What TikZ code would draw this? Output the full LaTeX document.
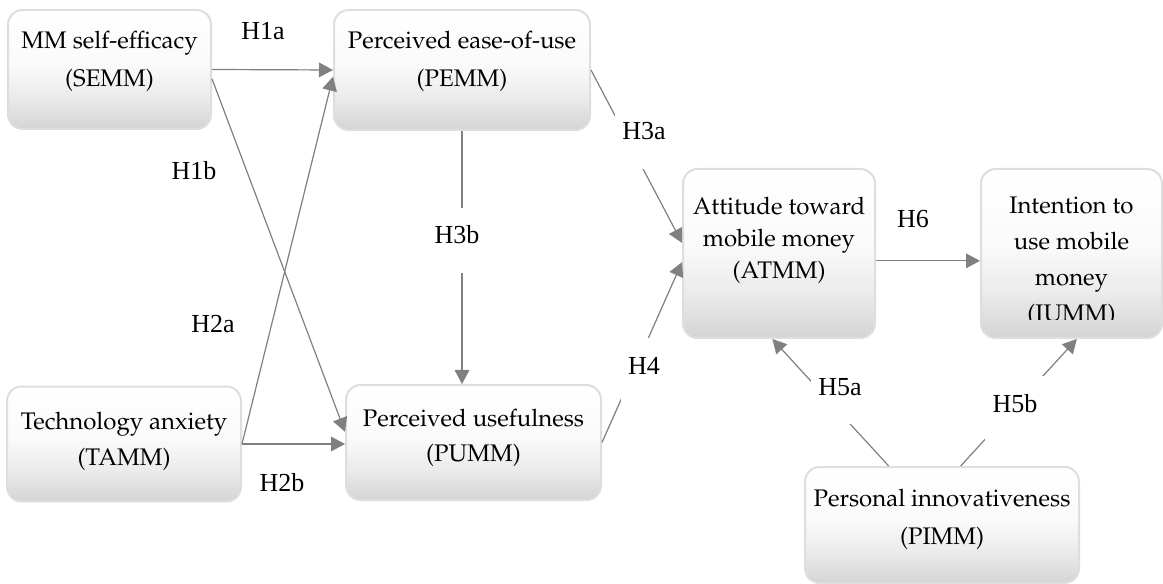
\documentclass[tikz,border=0pt]{standalone}
\usepackage[T1]{fontenc}
\usepackage{fontspec}
\usepackage{tikz}
\usetikzlibrary{arrows.meta, positioning, calc}
\newfontfamily\labfont{Liberation Serif}
\newcommand\boxfont[1]{\fontencoding{T1}\fontfamily{ppl}\fontsize{18}{#1}\selectfont}
\pgfdeclareverticalshading{mboxshade}{100bp}{color(0bp)=(black!17); color(25bp)=(black!17); color(38bp)=(black!8); color(52bp)=(black!2); color(75bp)=(white); color(100bp)=(white)}
\tikzset{
	mbox/.style={draw=black!13, line width=1.5pt, rounded corners=11pt, shading=mboxshade, inner sep=0pt},
	mtext/.style={font=\boxfont{#1}, align=center, inner sep=0pt},
	mtext/.default=26pt,
	hyp/.style={font=\labfont\fontsize{19.5}{21}\selectfont, inner sep=1pt},
	% label sitting on a line, white patch cuts the line
	hypgap/.style={hyp, fill=white, inner xsep=5.5pt, inner ysep=0pt, text height=27pt, text depth=22pt, anchor=base},
	hyparrow/.style={draw=gray, line width=0.9pt, -{Triangle[length=10.5pt, width=11pt]}, fill=gray},
}

\begin{document}
\begin{tikzpicture}[x=0.75pt, y=-0.75pt]
	\useasboundingbox (0,0) rectangle (1163,584);
	% constructs
	\node[mbox, minimum width=152.25pt, minimum height=89.25pt] (sem) at (109.5,69.5) {};
	\node[mbox, minimum width=192pt, minimum height=90pt] (pem) at (462,70) {};
	\node[mbox, minimum width=175.5pt, minimum height=86.25pt] (tam) at (124,444) {};
	\node[mbox, minimum width=191.25pt, minimum height=86.25pt] (pum) at (473.5,442.5) {};
	\node[mbox, minimum width=144pt, minimum height=126.75pt] (atm) at (779,253.5) {};
	\node[mbox, minimum width=135.75pt, minimum height=126.75pt] (ium) at (1071.5,253.5) {};
	\node[mbox, minimum width=205.5pt, minimum height=87pt] (pim) at (942,525) {};

	\node[mtext=28.5pt] (sem-t) at (109.5,61) {MM self-efficacy\\(SEMM)};
	\node[mtext=28.5pt] (pem-t) at (462,61) {Perceived ease-of-use\\(PEMM)};
	\node[mtext=27pt] (tam-t) at (124,441) {Technology anxiety\\(TAMM)};
	\node[mtext=26.25pt] (pum-t) at (473.5,437.5) {Perceived usefulness\\(PUMM)};
	\node[mtext=24pt] (atm-t) at (779,240) {Attitude toward\\mobile money\\(ATMM)};
	\begin{scope}
		\clip (ium.north west) rectangle ([yshift=14.25pt]ium.south east);
		\node[mtext=27pt] (ium-t) at (1071.5,261.5) {Intention to\\use mobile\\money\\(IUMM)};
	\end{scope}
	\node[mtext=28.5pt] (pim-t) at (942,519) {Personal innovativeness\\(PIMM)};

	% hypotheses
	\draw[hyparrow] (sem.east) -- (pem.west);
	\draw[hyparrow] ([yshift=-7pt]sem.east) -- ([yshift=8pt]pum.west);
	\draw[hyparrow] (tam.east) -- ([yshift=-5pt]pem.west);
	\draw[hyparrow] (tam.east) -- (tam.east -| pum.west);
	\draw[hyparrow] (pem.east) -- ([yshift=8pt]atm.west);
	\draw[hyparrow] (pem.south) -- (pem.south |- pum.north);
	\draw[hyparrow] (pum.east) -- ([yshift=-6.5pt]atm.west);
	\draw[hyparrow] ([yshift=-5.5pt]atm.east) -- ([yshift=-5.5pt]atm.east -| ium.west);
	\draw[hyparrow] ([xshift=-40pt]pim.north) -- ([xshift=-5pt]atm.south);
	\draw[hyparrow] ([xshift=14pt]pim.north) -- ([xshift=4pt]ium.south);

	\node[hyp] (h1a) at (263,31) {H1a};
	\node[hyp] (h1b) at (194,171) {H1b};
	\node[hyp] (h2a) at (213,324) {H2a};
	\node[hyp] (h2b) at (282,483) {H2b};
	\node[hyp] (h6) at (913,219) {H6};
	\node[hypgap] (h3a) at (644,140) {H3a};
	\node[hypgap] (h3b) at (457,244) {H3b};
	\node[hypgap] (h4) at (644,374) {H4};
	\node[hypgap] (h5a) at (840,395) {H5a};
	\node[hypgap] (h5b) at (1015,412) {H5b};
\end{tikzpicture}
\end{document}
